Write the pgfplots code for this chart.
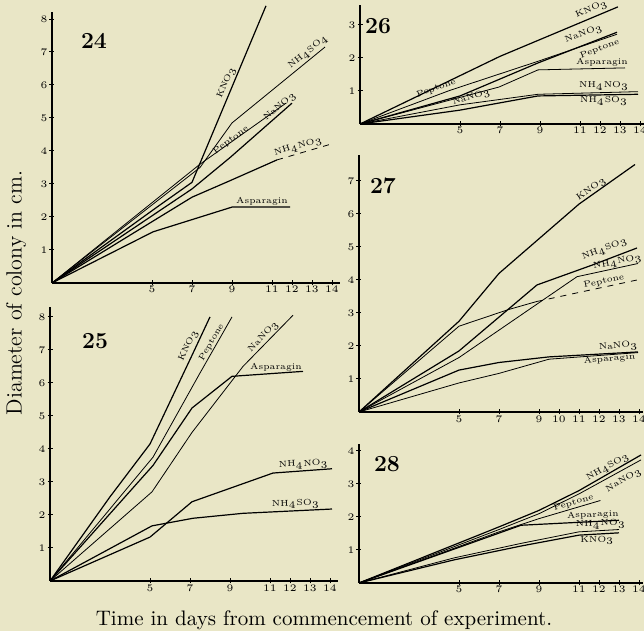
\documentclass[border=0pt]{standalone}
\usepackage{pgfplots}
\pgfplotsset{compat=1.18}
\definecolor{paper}{RGB}{233,230,198}
\begin{document}
\begin{tikzpicture}
\fill[paper] (0,0) rectangle (322pt,315.5pt);
\useasboundingbox (0,0) rectangle (322pt,315.5pt);
\tikzset{
 lab/.style={font=\fontsize{4.3}{4.3}\selectfont, inner sep=0.5pt},
 num/.style={font=\fontsize{11.5}{11.5}\selectfont\bfseries}
}
\pgfplotsset{
 panel/.style={scale only axis, anchor=south west, xmin=0, ymin=0,
  axis x line=bottom, axis y line=left, axis line style={-, line width=0.75pt, black},
  xtick={5,7,9,11,12,13,14}, tick align=center, major tick length=2.5pt,
  tick style={line width=0.5pt, black},
  ticklabel style={font=\fontsize{4.5}{4.5}\selectfont},
  yticklabel style={xshift=2.5pt},
  xticklabel style={yshift=3pt},
  clip=false},
 l/.style={black, line width=0.6pt, no marks},
 t/.style={black, line width=0.4pt, no marks}
}
% ---------- Panel 24 ----------
\begin{axis}[panel, at={(26pt,174pt)}, width=144pt, height=135.3pt, xmax=14.4, ymax=8.2, ytick={1,...,8}]
\addplot[l] coordinates {(0,0)(5.25,2.3)(7,3.05)(10.7,8.4)};
\addplot[t] coordinates {(0,0)(7.4,3.5)(9,4.85)(13.65,7.15)};
\addplot[t] coordinates {(0,0)(7.4,3.6)(11.7,5.45)};
\addplot[l] coordinates {(0,0)(7,2.85)(8.9,3.8)(12,5.45)};
\addplot[l] coordinates {(0,0)(7,2.6)(8.9,3.1)(11.25,3.73)};
\addplot[t, dashed] coordinates {(11.25,3.73)(13.9,4.2)};
\addplot[l] coordinates {(0,0)(5.05,1.55)(9,2.3)(11.9,2.3)};
\node[num] at (axis cs:2.1,7.33) {24};
\node[lab, rotate=67, anchor=south] at (axis cs:9.0,6.0) {KNO$_3$};
\node[lab, rotate=39, anchor=south] at (axis cs:13.0,6.85) {NH$_4$SO$_4$};
\node[lab, rotate=36, anchor=south] at (axis cs:9.1,4.2) {Peptone};
\node[lab, rotate=41, anchor=south] at (axis cs:11.6,5.2) {NaNO$_3$};
\node[lab, rotate=16, anchor=south] at (axis cs:12.4,3.95) {NH$_4$NO$_3$};
\node[lab, anchor=south] at (axis cs:10.5,2.3) {Asparagin};
\end{axis}
% ---------- Panel 25 ----------
\begin{axis}[panel, at={(25pt,25pt)}, width=144pt, height=137pt, xmax=14.4, ymax=8.3, ytick={1,...,8}]
\addplot[l] coordinates {(0,0)(3,2.55)(5,4.15)(7.15,6.9)(8,8.0)};
\addplot[t] coordinates {(0,0)(5.15,3.75)(7.5,6.3)(9.1,8.0)};
\addplot[l] coordinates {(0,0)(5.15,3.5)(7.1,5.24)(9.1,6.2)(12.65,6.35)};
\addplot[t] coordinates {(0,0)(5.1,2.7)(7.1,4.5)(9.65,6.5)(12.15,8.05)};
\addplot[l] coordinates {(0,0)(5,1.33)(7.1,2.4)(11.15,3.27)(14.1,3.4)};
\addplot[l] coordinates {(0,0)(5.1,1.67)(7.15,1.9)(9.65,2.05)(14.1,2.18)};
\node[num] at (axis cs:2.25,7.27) {25};
\node[lab, rotate=65, anchor=south] at (axis cs:7.2,7.05) {KNO$_3$};
\node[lab, rotate=60, anchor=south] at (axis cs:8.3,7.15) {Peptone};
\node[lab, rotate=46, anchor=south] at (axis cs:10.9,7.27) {NaNO$_3$};
\node[lab, anchor=south] at (axis cs:11.3,6.3) {Asparagin};
\node[lab, rotate=3, anchor=south] at (axis cs:12.7,3.35) {NH$_4$NO$_3$};
\node[lab, rotate=2, anchor=south] at (axis cs:12.3,2.15) {NH$_4$SO$_3$};
\end{axis}
% ---------- Panel 26 ----------
\begin{axis}[panel, at={(180pt,253.5pt)}, width=142pt, height=59.4pt, xmax=14.2, ymax=3.6, ytick={1,2,3}]
\addplot[l] coordinates {(0,0)(7,2.05)(12.9,3.55)};
\addplot[l] coordinates {(0,0)(5,0.85)(8.9,1.85)(12.85,2.78)};
\addplot[t] coordinates {(0,0)(4.5,1.02)(8.9,1.9)(12.85,2.72)};
\addplot[t] coordinates {(0,0)(6.95,1.12)(8.9,1.64)(13.25,1.7)};
\addplot[t] coordinates {(0,0)(5,0.58)(8.9,0.9)(13.9,0.98)};
\addplot[l] coordinates {(0,0)(5,0.42)(8.9,0.85)(13.9,0.9)};
\node[num] at (axis cs:0.9,2.97) {26};
\node[lab, rotate=23, anchor=south] at (axis cs:11.7,3.3) {KNO$_3$};
\node[lab, rotate=20, anchor=south] at (axis cs:11.3,2.55) {NaNO$_3$};
\node[lab, rotate=20, anchor=north] at (axis cs:11.9,2.42) {Peptone};
\node[lab, anchor=south] at (axis cs:12.1,1.7) {Asparagin};
\node[lab, anchor=south] at (axis cs:12.2,0.97) {NH$_4$NO$_3$};
\node[lab, anchor=north] at (axis cs:12.2,0.87) {NH$_4$SO$_3$};
\node[lab, rotate=20, anchor=south] at (axis cs:3.9,0.93) {Peptone};
\node[lab, rotate=17, anchor=north] at (axis cs:5.5,0.97) {NaNO$_3$};
\end{axis}
% ---------- Panel 27 ----------
\begin{axis}[panel, at={(179.5pt,109.5pt)}, width=142pt, height=128.7pt, xmax=14.2, ymax=7.8, ytick={1,...,7}, xtick={5,7,9,10,11,12,13,14}]
\addplot[l] coordinates {(0,0)(5,2.75)(7,4.2)(11,6.3)(13.8,7.5)};
\addplot[l] coordinates {(0,0)(5,1.85)(8.9,3.85)(11.65,4.45)(13.9,4.97)};
\addplot[t] coordinates {(0,0)(5,1.65)(10.9,4.1)(13.95,4.5)};
\addplot[t] coordinates {(0,0)(5,2.6)(7.45,3.1)(8.9,3.35)};
\addplot[t, dashed] coordinates {(8.9,3.35)(13.9,4.0)};
\addplot[l] coordinates {(0,0)(5,1.27)(7,1.5)(9.5,1.67)(13.95,1.82)};
\addplot[t] coordinates {(0,0)(5,0.88)(7,1.17)(9.5,1.6)(13.95,1.8)};
\node[num] at (axis cs:1.2,6.85) {27};
\node[lab, rotate=35, anchor=south] at (axis cs:11.8,6.6) {KNO$_3$};
\node[lab, rotate=21, anchor=south] at (axis cs:12.4,4.76) {NH$_4$SO$_3$};
\node[lab, rotate=12, anchor=south] at (axis cs:13.0,4.36) {NH$_4$NO$_3$};
\node[lab, rotate=12, anchor=south] at (axis cs:12.3,3.8) {Peptone};
\node[lab, rotate=5, anchor=south] at (axis cs:13.0,1.8) {NaNO$_3$};
\node[lab, rotate=5, anchor=north] at (axis cs:12.5,1.77) {Asparagin};
\end{axis}
% ---------- Panel 28 ----------
\begin{axis}[panel, at={(179.5pt,24pt)}, width=142pt, height=69.3pt, xmax=14.2, ymax=4.2, ytick={1,2,3,4}]
\addplot[l] coordinates {(0,0)(7,1.7)(9,2.2)(11,2.8)(14.1,3.88)};
\addplot[t] coordinates {(0,0)(7,1.62)(9,2.1)(11,2.7)(14.1,3.73)};
\addplot[t] coordinates {(0,0)(7,1.55)(9,1.95)(12.07,2.5)};
\addplot[l] coordinates {(0,0)(8.1,1.75)(13,1.9)};
\addplot[t] coordinates {(0,0)(4.75,0.76)(8.1,1.2)(11,1.55)(13,1.62)};
\addplot[l] coordinates {(0,0)(4.75,0.7)(8.1,1.12)(11,1.45)(13,1.52)};
\node[num] at (axis cs:1.4,3.6) {28};
\node[lab, rotate=30, anchor=south] at (axis cs:12.6,3.35) {NH$_4$SO$_3$};
\node[lab, rotate=30, anchor=north] at (axis cs:13.1,3.25) {NaNO$_3$};
\node[lab, rotate=16, anchor=south] at (axis cs:10.8,2.28) {Peptone};
\node[lab, rotate=2, anchor=south] at (axis cs:11.7,1.9) {Asparagin};
\node[lab, rotate=2, anchor=south] at (axis cs:12.1,1.6) {NH$_4$NO$_3$};
\node[lab, rotate=2, anchor=north] at (axis cs:11.9,1.46) {KNO$_3$};
\end{axis}
\node[font=\fontsize{11}{11}\selectfont, rotate=90] at (8pt,169pt) {Diameter of colony in cm.};
\node[font=\fontsize{10.5}{10.5}\selectfont] at (162pt,5.5pt) {Time in days from commencement of experiment.};
\end{tikzpicture}
\end{document}
